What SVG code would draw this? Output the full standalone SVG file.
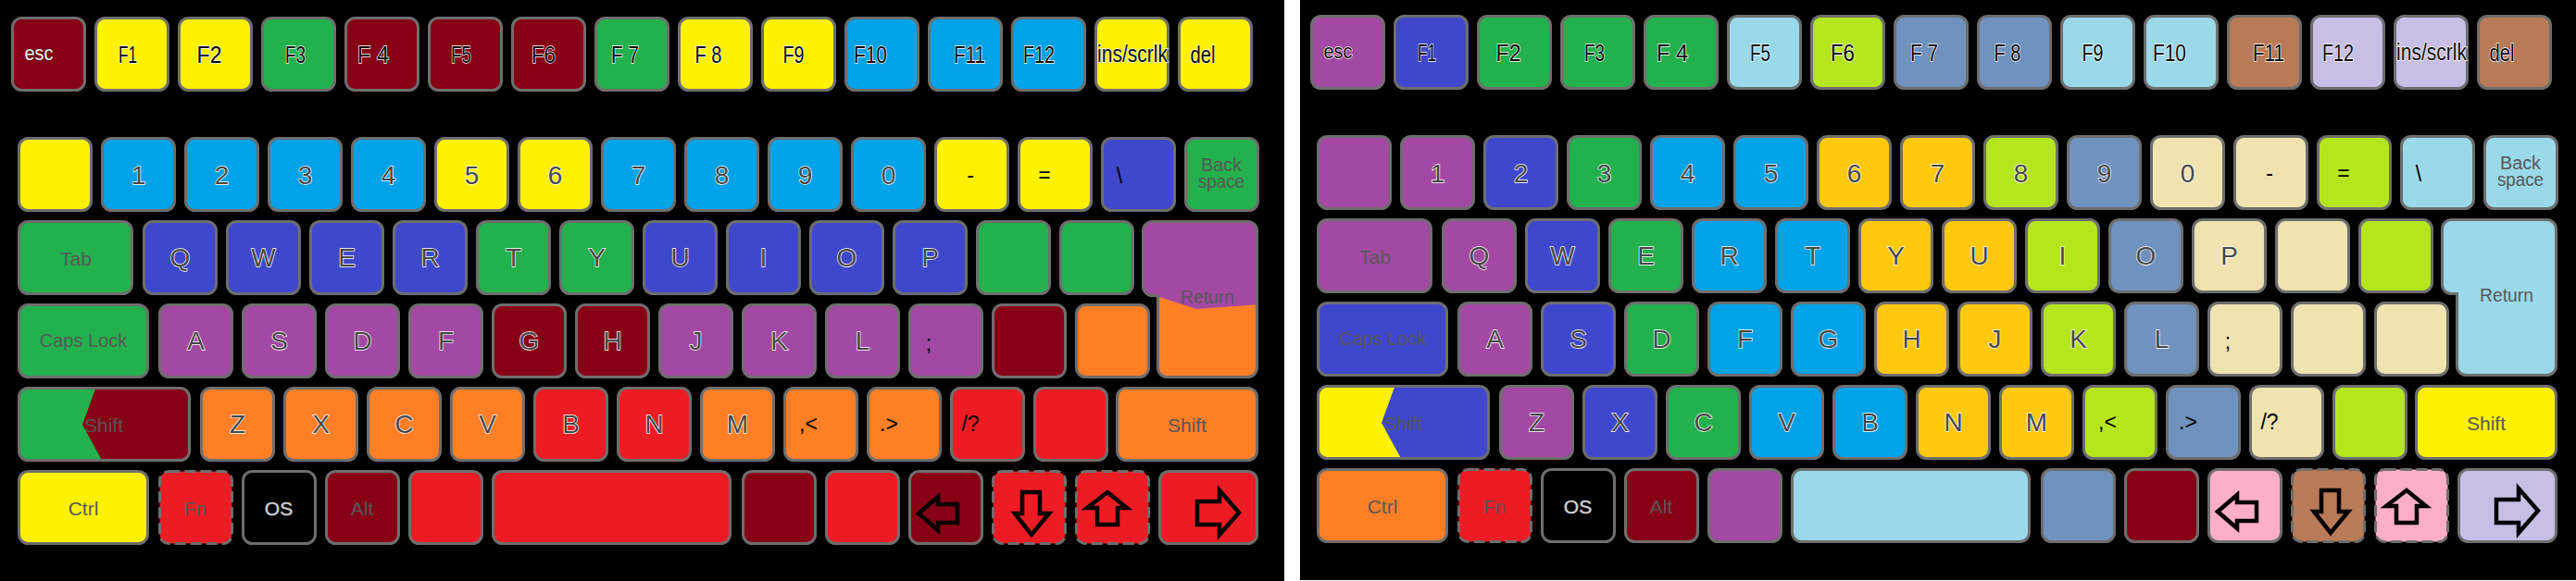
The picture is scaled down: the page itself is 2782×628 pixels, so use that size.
<svg xmlns="http://www.w3.org/2000/svg" width="2782" height="628" viewBox="0 0 2782 628">
<style>
.k{stroke:#6e6e6e;stroke-width:3}
.dsh{stroke-dasharray:12 5}
text{font-family:"Liberation Sans",Arial,Helvetica,sans-serif;text-anchor:middle}
.lt{font-size:28px;fill:#474747;stroke:#ffffff;stroke-width:1.4px;paint-order:stroke}
.fk{font-size:25px;fill:#0a0a0a;stroke:#ffffff;stroke-width:1.4px;paint-order:stroke}
.sm{font-size:22px}
.escl{fill:#f2f2f2;stroke:#1a1a1a;stroke-width:1px}
.lab{font-size:21px;fill:#575757}
.pn{font-size:23px;fill:#000000}
.os{font-size:21px;fill:#d4d4d4;stroke:#555555;stroke-width:1px;paint-order:stroke}
.arw{fill:none;stroke:#000000;stroke-width:4.5;stroke-linejoin:miter}
.dr{fill:#880015}.ye{fill:#FFF200}.gr{fill:#22B14C}.bl{fill:#00A2E8}.in{fill:#3F48CC}
.pu{fill:#A349A4}.or{fill:#FF7F27}.re{fill:#ED1C24}.bk{fill:#000000}.lbl{fill:#99D9EA}
.li{fill:#B5E61D}.st{fill:#7092BE}.go{fill:#FFC90E}.be{fill:#EFE4B0}.br{fill:#B97A57}
.la{fill:#C8BFE7}.pk{fill:#FFAEC9}
</style>
<defs>
<clipPath id="cpShift"><rect x="20.5" y="419.5" width="184" height="78" rx="10"/></clipPath>
<clipPath id="cpRet"><path d="M1244.5,239.5 H1347.5 A10,10 0 0 1 1357.5,249.5 V397.5 A10,10 0 0 1 1347.5,407.5 H1260.5 A10,10 0 0 1 1250.5,397.5 V319.5 H1244.5 A10,10 0 0 1 1234.5,309.5 V249.5 A10,10 0 0 1 1244.5,239.5 Z"/></clipPath>
<path id="retShape" d="M1244.5,239.5 H1347.5 A10,10 0 0 1 1357.5,249.5 V397.5 A10,10 0 0 1 1347.5,407.5 H1260.5 A10,10 0 0 1 1250.5,397.5 V319.5 H1244.5 A10,10 0 0 1 1234.5,309.5 V249.5 A10,10 0 0 1 1244.5,239.5 Z"/>
</defs>
<rect x="0" y="0" width="2782" height="628" fill="#ffffff"/>
<rect x="0" y="0" width="1387" height="628" fill="#000000"/>
<rect x="1404" y="0" width="1378" height="627" fill="#000000"/>

<g id="keyboard-left">
<!-- top row -->
<g id="L-esc"><rect class="k dr" x="13.5" y="19.5" width="78" height="78" rx="10"/><text class="fk sm escl" x="42" y="65" textLength="31" lengthAdjust="spacingAndGlyphs">esc</text></g>
<g id="L-F1"><rect class="k ye" x="103.5" y="19.5" width="78" height="78" rx="10"/><text class="fk" x="138" y="68" textLength="20" lengthAdjust="spacingAndGlyphs">F1</text></g>
<g id="L-F2"><rect class="k ye" x="193.5" y="19.5" width="78" height="78" rx="10"/><text class="fk" x="226" y="68" textLength="27" lengthAdjust="spacingAndGlyphs">F2</text></g>
<g id="L-F3"><rect class="k gr" x="283.5" y="19.5" width="78" height="78" rx="10"/><text class="fk" x="319" y="68" textLength="22" lengthAdjust="spacingAndGlyphs">F3</text></g>
<g id="L-F4"><rect class="k dr" x="373.5" y="19.5" width="78" height="78" rx="10"/><text class="fk" x="403" y="68" textLength="34" lengthAdjust="spacingAndGlyphs">F 4</text></g>
<g id="L-F5"><rect class="k dr" x="463.5" y="19.5" width="78" height="78" rx="10"/><text class="fk" x="498" y="68" textLength="22" lengthAdjust="spacingAndGlyphs">F5</text></g>
<g id="L-F6"><rect class="k dr" x="553.5" y="19.5" width="78" height="78" rx="10"/><text class="fk" x="587" y="68" textLength="26" lengthAdjust="spacingAndGlyphs">F6</text></g>
<g id="L-F7"><rect class="k gr" x="643.5" y="19.5" width="78" height="78" rx="10"/><text class="fk" x="675" y="68" textLength="30" lengthAdjust="spacingAndGlyphs">F 7</text></g>
<g id="L-F8"><rect class="k ye" x="733.5" y="19.5" width="78" height="78" rx="10"/><text class="fk" x="765" y="68" textLength="29" lengthAdjust="spacingAndGlyphs">F 8</text></g>
<g id="L-F9"><rect class="k ye" x="823.5" y="19.5" width="78" height="78" rx="10"/><text class="fk" x="857" y="68" textLength="23" lengthAdjust="spacingAndGlyphs">F9</text></g>
<g id="L-F10"><rect class="k bl" x="913.5" y="19.5" width="78" height="78" rx="10"/><text class="fk" x="940" y="68" textLength="36" lengthAdjust="spacingAndGlyphs">F10</text></g>
<g id="L-F11"><rect class="k bl" x="1003.5" y="19.5" width="78" height="78" rx="10"/><text class="fk" x="1047" y="68" textLength="34" lengthAdjust="spacingAndGlyphs">F11</text></g>
<g id="L-F12"><rect class="k bl" x="1093.5" y="19.5" width="78" height="78" rx="10"/><text class="fk" x="1122" y="68" textLength="34" lengthAdjust="spacingAndGlyphs">F12</text></g>
<g id="L-ins"><rect class="k ye" x="1183.5" y="19.5" width="78" height="78" rx="10"/><text class="fk" x="1223" y="67" textLength="76" lengthAdjust="spacingAndGlyphs">ins/scrlk</text></g>
<g id="L-del"><rect class="k ye" x="1273.5" y="19.5" width="78" height="78" rx="10"/><text class="fk" x="1299" y="68" textLength="27" lengthAdjust="spacingAndGlyphs">del</text></g>
<!-- number row -->
<g id="L-grave"><rect class="k ye" x="20.5" y="149.5" width="78" height="78" rx="10"/></g>
<g id="L-1"><rect class="k bl" x="110.5" y="149.5" width="78" height="78" rx="10"/><text class="lt" x="149.5" y="199">1</text></g>
<g id="L-2"><rect class="k bl" x="200.5" y="149.5" width="78" height="78" rx="10"/><text class="lt" x="239.5" y="199">2</text></g>
<g id="L-3"><rect class="k bl" x="290.5" y="149.5" width="78" height="78" rx="10"/><text class="lt" x="329.5" y="199">3</text></g>
<g id="L-4"><rect class="k bl" x="380.5" y="149.5" width="78" height="78" rx="10"/><text class="lt" x="419.5" y="199">4</text></g>
<g id="L-5"><rect class="k ye" x="470.5" y="149.5" width="78" height="78" rx="10"/><text class="lt" x="509.5" y="199">5</text></g>
<g id="L-6"><rect class="k ye" x="560.5" y="149.5" width="78" height="78" rx="10"/><text class="lt" x="599.5" y="199">6</text></g>
<g id="L-7"><rect class="k bl" x="650.5" y="149.5" width="78" height="78" rx="10"/><text class="lt" x="689.5" y="199">7</text></g>
<g id="L-8"><rect class="k bl" x="740.5" y="149.5" width="78" height="78" rx="10"/><text class="lt" x="779.5" y="199">8</text></g>
<g id="L-9"><rect class="k bl" x="830.5" y="149.5" width="78" height="78" rx="10"/><text class="lt" x="869.5" y="199">9</text></g>
<g id="L-0"><rect class="k bl" x="920.5" y="149.5" width="78" height="78" rx="10"/><text class="lt" x="959.5" y="199">0</text></g>
<g id="L-minus"><rect class="k ye" x="1010.5" y="149.5" width="78" height="78" rx="10"/><text class="pn" x="1048" y="197">-</text></g>
<g id="L-equal"><rect class="k ye" x="1100.5" y="149.5" width="78" height="78" rx="10"/><text class="pn" x="1128" y="197">=</text></g>
<g id="L-backslash"><rect class="k in" x="1190.5" y="149.5" width="78" height="78" rx="10"/><text class="pn" x="1209" y="198">\</text></g>
<g id="L-backspace"><rect class="k gr" x="1280.5" y="149.5" width="78" height="78" rx="10"/><text class="lab" style="font-size:20px"><tspan x="1319" y="185" textLength="44" lengthAdjust="spacingAndGlyphs">Back</tspan><tspan x="1319" y="203" textLength="50" lengthAdjust="spacingAndGlyphs">space</tspan></text></g>
<!-- tab row -->
<g id="L-tab"><rect class="k gr" x="20.5" y="239.5" width="122" height="78" rx="10"/><text class="lab" x="82" y="287">Tab</text></g>
<g id="L-Q"><rect class="k in" x="155.5" y="239.5" width="78" height="78" rx="10"/><text class="lt" x="194.5" y="288">Q</text></g>
<g id="L-W"><rect class="k in" x="245.5" y="239.5" width="78" height="78" rx="10"/><text class="lt" x="284.5" y="288">W</text></g>
<g id="L-E"><rect class="k in" x="335.5" y="239.5" width="78" height="78" rx="10"/><text class="lt" x="374.5" y="288">E</text></g>
<g id="L-R"><rect class="k in" x="425.5" y="239.5" width="78" height="78" rx="10"/><text class="lt" x="464.5" y="288">R</text></g>
<g id="L-T"><rect class="k gr" x="515.5" y="239.5" width="78" height="78" rx="10"/><text class="lt" x="554.5" y="288">T</text></g>
<g id="L-Y"><rect class="k gr" x="605.5" y="239.5" width="78" height="78" rx="10"/><text class="lt" x="644.5" y="288">Y</text></g>
<g id="L-U"><rect class="k in" x="695.5" y="239.5" width="78" height="78" rx="10"/><text class="lt" x="734.5" y="288">U</text></g>
<g id="L-I"><rect class="k in" x="785.5" y="239.5" width="78" height="78" rx="10"/><text class="lt" x="824.5" y="288">I</text></g>
<g id="L-O"><rect class="k in" x="875.5" y="239.5" width="78" height="78" rx="10"/><text class="lt" x="914.5" y="288">O</text></g>
<g id="L-P"><rect class="k in" x="965.5" y="239.5" width="78" height="78" rx="10"/><text class="lt" x="1004.5" y="288">P</text></g>
<g id="L-lbracket"><rect class="k gr" x="1055.5" y="239.5" width="78" height="78" rx="10"/></g>
<g id="L-rbracket"><rect class="k gr" x="1145.5" y="239.5" width="78" height="78" rx="10"/></g>
<g id="L-return"><use href="#retShape" class="pu"/><polygon class="or" clip-path="url(#cpRet)" points="1228,320 1249,320 1292,334 1362,329 1362,412 1228,412"/><use href="#retShape" class="k" fill="none"/><text class="lab" x="1304" y="328" textLength="58" lengthAdjust="spacingAndGlyphs">Return</text></g>
<!-- caps row -->
<g id="L-caps"><rect class="k gr" x="20.5" y="329.5" width="139" height="78" rx="10"/><text class="lab" style="font-size:20px" x="90" y="375">Caps Lock</text></g>
<g id="L-A"><rect class="k pu" x="172.5" y="329.5" width="78" height="78" rx="10"/><text class="lt" x="211.5" y="378">A</text></g>
<g id="L-S"><rect class="k pu" x="262.5" y="329.5" width="78" height="78" rx="10"/><text class="lt" x="301.5" y="378">S</text></g>
<g id="L-D"><rect class="k pu" x="352.5" y="329.5" width="78" height="78" rx="10"/><text class="lt" x="391.5" y="378">D</text></g>
<g id="L-F"><rect class="k pu" x="442.5" y="329.5" width="78" height="78" rx="10"/><text class="lt" x="481.5" y="378">F</text></g>
<g id="L-G"><rect class="k dr" x="532.5" y="329.5" width="78" height="78" rx="10"/><text class="lt" x="571.5" y="378">G</text></g>
<g id="L-H"><rect class="k dr" x="622.5" y="329.5" width="78" height="78" rx="10"/><text class="lt" x="661.5" y="378">H</text></g>
<g id="L-J"><rect class="k pu" x="712.5" y="329.5" width="78" height="78" rx="10"/><text class="lt" x="751.5" y="378">J</text></g>
<g id="L-K"><rect class="k pu" x="802.5" y="329.5" width="78" height="78" rx="10"/><text class="lt" x="841.5" y="378">K</text></g>
<g id="L-L"><rect class="k pu" x="892.5" y="329.5" width="78" height="78" rx="10"/><text class="lt" x="931.5" y="378">L</text></g>
<g id="L-semicolon"><rect class="k pu" x="982.5" y="329.5" width="78" height="78" rx="10"/><text class="pn" x="1003" y="379">;</text></g>
<g id="L-quote"><rect class="k dr" x="1072.5" y="329.5" width="78" height="78" rx="10"/></g>
<g id="L-hash"><rect class="k or" x="1162.5" y="329.5" width="78" height="78" rx="10"/></g>
<!-- shift row -->
<g id="L-lshift"><rect class="dr" x="20.5" y="419.5" width="184" height="78" rx="10"/><polygon class="gr" clip-path="url(#cpShift)" points="14,415 105,415 89,459 113,503 14,503"/><rect class="k" fill="none" x="20.5" y="419.5" width="184" height="78" rx="10"/><text class="lab" x="112" y="467">Shift</text></g>
<g id="L-Z"><rect class="k or" x="217.5" y="419.5" width="78" height="78" rx="10"/><text class="lt" x="256.5" y="468">Z</text></g>
<g id="L-X"><rect class="k or" x="307.5" y="419.5" width="78" height="78" rx="10"/><text class="lt" x="346.5" y="468">X</text></g>
<g id="L-C"><rect class="k or" x="397.5" y="419.5" width="78" height="78" rx="10"/><text class="lt" x="436.5" y="468">C</text></g>
<g id="L-V"><rect class="k or" x="487.5" y="419.5" width="78" height="78" rx="10"/><text class="lt" x="526.5" y="468">V</text></g>
<g id="L-B"><rect class="k re" x="577.5" y="419.5" width="78" height="78" rx="10"/><text class="lt" x="616.5" y="468">B</text></g>
<g id="L-N"><rect class="k re" x="667.5" y="419.5" width="78" height="78" rx="10"/><text class="lt" x="706.5" y="468">N</text></g>
<g id="L-M"><rect class="k or" x="757.5" y="419.5" width="78" height="78" rx="10"/><text class="lt" x="796.5" y="468">M</text></g>
<g id="L-comma"><rect class="k or" x="847.5" y="419.5" width="78" height="78" rx="10"/><text class="pn" x="873" y="466">,&lt;</text></g>
<g id="L-period"><rect class="k or" x="937.5" y="419.5" width="78" height="78" rx="10"/><text class="pn" x="960" y="466">.&gt;</text></g>
<g id="L-slash"><rect class="k re" x="1027.5" y="419.5" width="78" height="78" rx="10"/><text class="pn" x="1048" y="466">/?</text></g>
<g id="L-blank-shift"><rect class="k re" x="1117.5" y="419.5" width="78" height="78" rx="10"/></g>
<g id="L-rshift"><rect class="k or" x="1206.5" y="419.5" width="151" height="78" rx="10"/><text class="lab" x="1282" y="467">Shift</text></g>
<!-- bottom row -->
<g id="L-ctrl"><rect class="k ye" x="20.5" y="509.5" width="139" height="78" rx="10"/><text class="lab" x="90" y="557">Ctrl</text></g>
<g id="L-fn"><rect class="k dsh re" x="172.5" y="509.5" width="78" height="78" rx="10"/><text class="lab" x="211" y="557">Fn</text></g>
<g id="L-os"><rect class="k bk" x="262.5" y="509.5" width="78" height="78" rx="10"/><text class="os" x="301" y="557">OS</text></g>
<g id="L-alt"><rect class="k dr" x="352.5" y="509.5" width="78" height="78" rx="10"/><text class="lab" x="391" y="557">Alt</text></g>
<g id="L-blank-1"><rect class="k re" x="442.5" y="509.5" width="78" height="78" rx="10"/></g>
<g id="L-space"><rect class="k re" x="532.5" y="509.5" width="256" height="78" rx="10"/></g>
<g id="L-blank-2"><rect class="k dr" x="802.5" y="509.5" width="78" height="78" rx="10"/></g>
<g id="L-blank-3"><rect class="k re" x="892.5" y="509.5" width="78" height="78" rx="10"/></g>
<g id="L-left"><rect class="k dr" x="982.5" y="509.5" width="78" height="78" rx="10"/><polygon class="arw" points="992,555 1013,537 1013,545 1034,545 1034,565 1013,565 1013,573"/></g>
<g id="L-down"><rect class="k dsh re" x="1072.5" y="509.5" width="78" height="78" rx="10"/><polygon class="arw" points="1104,532 1123,532 1123,555 1133,555 1114,578 1096,555 1104,555"/></g>
<g id="L-up"><rect class="k dsh re" x="1162.5" y="509.5" width="78" height="78" rx="10"/><polygon class="arw" points="1196,532 1217,549 1207,549 1207,567 1185,567 1185,549 1174,549"/></g>
<g id="L-right"><rect class="k re" x="1252.5" y="509.5" width="105" height="78" rx="10"/><polygon class="arw" points="1293,542 1317,542 1317,530 1338,554 1317,578 1317,567 1293,567"/></g>
</g>

<g id="keyboard-right" transform="translate(1403,-2)">
<!-- top row -->
<g id="R-esc"><rect class="k pu" x="13.5" y="19.5" width="78" height="78" rx="10"/><text class="fk sm" x="42" y="65" textLength="31" lengthAdjust="spacingAndGlyphs">esc</text></g>
<g id="R-F1"><rect class="k in" x="103.5" y="19.5" width="78" height="78" rx="10"/><text class="fk" x="138" y="68" textLength="20" lengthAdjust="spacingAndGlyphs">F1</text></g>
<g id="R-F2"><rect class="k gr" x="193.5" y="19.5" width="78" height="78" rx="10"/><text class="fk" x="226" y="68" textLength="27" lengthAdjust="spacingAndGlyphs">F2</text></g>
<g id="R-F3"><rect class="k gr" x="283.5" y="19.5" width="78" height="78" rx="10"/><text class="fk" x="319" y="68" textLength="22" lengthAdjust="spacingAndGlyphs">F3</text></g>
<g id="R-F4"><rect class="k gr" x="373.5" y="19.5" width="78" height="78" rx="10"/><text class="fk" x="403" y="68" textLength="34" lengthAdjust="spacingAndGlyphs">F 4</text></g>
<g id="R-F5"><rect class="k lbl" x="463.5" y="19.5" width="78" height="78" rx="10"/><text class="fk" x="498" y="68" textLength="22" lengthAdjust="spacingAndGlyphs">F5</text></g>
<g id="R-F6"><rect class="k li" x="553.5" y="19.5" width="78" height="78" rx="10"/><text class="fk" x="587" y="68" textLength="26" lengthAdjust="spacingAndGlyphs">F6</text></g>
<g id="R-F7"><rect class="k st" x="643.5" y="19.5" width="78" height="78" rx="10"/><text class="fk" x="675" y="68" textLength="30" lengthAdjust="spacingAndGlyphs">F 7</text></g>
<g id="R-F8"><rect class="k st" x="733.5" y="19.5" width="78" height="78" rx="10"/><text class="fk" x="765" y="68" textLength="29" lengthAdjust="spacingAndGlyphs">F 8</text></g>
<g id="R-F9"><rect class="k lbl" x="823.5" y="19.5" width="78" height="78" rx="10"/><text class="fk" x="857" y="68" textLength="23" lengthAdjust="spacingAndGlyphs">F9</text></g>
<g id="R-F10"><rect class="k lbl" x="913.5" y="19.5" width="78" height="78" rx="10"/><text class="fk" x="940" y="68" textLength="36" lengthAdjust="spacingAndGlyphs">F10</text></g>
<g id="R-F11"><rect class="k br" x="1003.5" y="19.5" width="78" height="78" rx="10"/><text class="fk" x="1047" y="68" textLength="34" lengthAdjust="spacingAndGlyphs">F11</text></g>
<g id="R-F12"><rect class="k la" x="1093.5" y="19.5" width="78" height="78" rx="10"/><text class="fk" x="1122" y="68" textLength="34" lengthAdjust="spacingAndGlyphs">F12</text></g>
<g id="R-ins"><rect class="k la" x="1183.5" y="19.5" width="78" height="78" rx="10"/><text class="fk" x="1223" y="67" textLength="76" lengthAdjust="spacingAndGlyphs">ins/scrlk</text></g>
<g id="R-del"><rect class="k br" x="1273.5" y="19.5" width="78" height="78" rx="10"/><text class="fk" x="1299" y="68" textLength="27" lengthAdjust="spacingAndGlyphs">del</text></g>
<!-- number row -->
<g id="R-grave"><rect class="k pu" x="20.5" y="149.5" width="78" height="78" rx="10"/></g>
<g id="R-1"><rect class="k pu" x="110.5" y="149.5" width="78" height="78" rx="10"/><text class="lt" x="149.5" y="199">1</text></g>
<g id="R-2"><rect class="k in" x="200.5" y="149.5" width="78" height="78" rx="10"/><text class="lt" x="239.5" y="199">2</text></g>
<g id="R-3"><rect class="k gr" x="290.5" y="149.5" width="78" height="78" rx="10"/><text class="lt" x="329.5" y="199">3</text></g>
<g id="R-4"><rect class="k bl" x="380.5" y="149.5" width="78" height="78" rx="10"/><text class="lt" x="419.5" y="199">4</text></g>
<g id="R-5"><rect class="k bl" x="470.5" y="149.5" width="78" height="78" rx="10"/><text class="lt" x="509.5" y="199">5</text></g>
<g id="R-6"><rect class="k go" x="560.5" y="149.5" width="78" height="78" rx="10"/><text class="lt" x="599.5" y="199">6</text></g>
<g id="R-7"><rect class="k go" x="650.5" y="149.5" width="78" height="78" rx="10"/><text class="lt" x="689.5" y="199">7</text></g>
<g id="R-8"><rect class="k li" x="740.5" y="149.5" width="78" height="78" rx="10"/><text class="lt" x="779.5" y="199">8</text></g>
<g id="R-9"><rect class="k st" x="830.5" y="149.5" width="78" height="78" rx="10"/><text class="lt" x="869.5" y="199">9</text></g>
<g id="R-0"><rect class="k be" x="920.5" y="149.5" width="78" height="78" rx="10"/><text class="lt" x="959.5" y="199">0</text></g>
<g id="R-minus"><rect class="k be" x="1010.5" y="149.5" width="78" height="78" rx="10"/><text class="pn" x="1048" y="197">-</text></g>
<g id="R-equal"><rect class="k li" x="1100.5" y="149.5" width="78" height="78" rx="10"/><text class="pn" x="1128" y="197">=</text></g>
<g id="R-backslash"><rect class="k lbl" x="1190.5" y="149.5" width="78" height="78" rx="10"/><text class="pn" x="1209" y="198">\</text></g>
<g id="R-backspace"><rect class="k lbl" x="1280.5" y="149.5" width="78" height="78" rx="10"/><text class="lab" style="font-size:20px"><tspan x="1319" y="185" textLength="44" lengthAdjust="spacingAndGlyphs">Back</tspan><tspan x="1319" y="203" textLength="50" lengthAdjust="spacingAndGlyphs">space</tspan></text></g>
<!-- tab row -->
<g id="R-tab"><rect class="k pu" x="20.5" y="239.5" width="122" height="78" rx="10"/><text class="lab" x="82" y="287">Tab</text></g>
<g id="R-Q"><rect class="k pu" x="155.5" y="239.5" width="78" height="78" rx="10"/><text class="lt" x="194.5" y="288">Q</text></g>
<g id="R-W"><rect class="k in" x="245.5" y="239.5" width="78" height="78" rx="10"/><text class="lt" x="284.5" y="288">W</text></g>
<g id="R-E"><rect class="k gr" x="335.5" y="239.5" width="78" height="78" rx="10"/><text class="lt" x="374.5" y="288">E</text></g>
<g id="R-R"><rect class="k bl" x="425.5" y="239.5" width="78" height="78" rx="10"/><text class="lt" x="464.5" y="288">R</text></g>
<g id="R-T"><rect class="k bl" x="515.5" y="239.5" width="78" height="78" rx="10"/><text class="lt" x="554.5" y="288">T</text></g>
<g id="R-Y"><rect class="k go" x="605.5" y="239.5" width="78" height="78" rx="10"/><text class="lt" x="644.5" y="288">Y</text></g>
<g id="R-U"><rect class="k go" x="695.5" y="239.5" width="78" height="78" rx="10"/><text class="lt" x="734.5" y="288">U</text></g>
<g id="R-I"><rect class="k li" x="785.5" y="239.5" width="78" height="78" rx="10"/><text class="lt" x="824.5" y="288">I</text></g>
<g id="R-O"><rect class="k st" x="875.5" y="239.5" width="78" height="78" rx="10"/><text class="lt" x="914.5" y="288">O</text></g>
<g id="R-P"><rect class="k be" x="965.5" y="239.5" width="78" height="78" rx="10"/><text class="lt" x="1004.5" y="288">P</text></g>
<g id="R-lbracket"><rect class="k be" x="1055.5" y="239.5" width="78" height="78" rx="10"/></g>
<g id="R-rbracket"><rect class="k li" x="1145.5" y="239.5" width="78" height="78" rx="10"/></g>
<g id="R-return"><use href="#retShape" class="k lbl"/><text class="lab" x="1304" y="328" textLength="58" lengthAdjust="spacingAndGlyphs">Return</text></g>
<!-- caps row -->
<g id="R-caps"><rect class="k in" x="20.5" y="329.5" width="139" height="78" rx="10"/><text class="lab" style="font-size:20px" x="90" y="375">Caps Lock</text></g>
<g id="R-A"><rect class="k pu" x="172.5" y="329.5" width="78" height="78" rx="10"/><text class="lt" x="211.5" y="378">A</text></g>
<g id="R-S"><rect class="k in" x="262.5" y="329.5" width="78" height="78" rx="10"/><text class="lt" x="301.5" y="378">S</text></g>
<g id="R-D"><rect class="k gr" x="352.5" y="329.5" width="78" height="78" rx="10"/><text class="lt" x="391.5" y="378">D</text></g>
<g id="R-F"><rect class="k bl" x="442.5" y="329.5" width="78" height="78" rx="10"/><text class="lt" x="481.5" y="378">F</text></g>
<g id="R-G"><rect class="k bl" x="532.5" y="329.5" width="78" height="78" rx="10"/><text class="lt" x="571.5" y="378">G</text></g>
<g id="R-H"><rect class="k go" x="622.5" y="329.5" width="78" height="78" rx="10"/><text class="lt" x="661.5" y="378">H</text></g>
<g id="R-J"><rect class="k go" x="712.5" y="329.5" width="78" height="78" rx="10"/><text class="lt" x="751.5" y="378">J</text></g>
<g id="R-K"><rect class="k li" x="802.5" y="329.5" width="78" height="78" rx="10"/><text class="lt" x="841.5" y="378">K</text></g>
<g id="R-L"><rect class="k st" x="892.5" y="329.5" width="78" height="78" rx="10"/><text class="lt" x="931.5" y="378">L</text></g>
<g id="R-semicolon"><rect class="k be" x="982.5" y="329.5" width="78" height="78" rx="10"/><text class="pn" x="1003" y="379">;</text></g>
<g id="R-quote"><rect class="k be" x="1072.5" y="329.5" width="78" height="78" rx="10"/></g>
<g id="R-hash"><rect class="k be" x="1162.5" y="329.5" width="78" height="78" rx="10"/></g>
<!-- shift row -->
<g id="R-lshift"><rect class="in" x="20.5" y="419.5" width="184" height="78" rx="10"/><polygon class="ye" clip-path="url(#cpShift)" points="14,415 105,415 89,459 113,503 14,503"/><rect class="k" fill="none" x="20.5" y="419.5" width="184" height="78" rx="10"/><text class="lab" x="112" y="467">Shift</text></g>
<g id="R-Z"><rect class="k pu" x="217.5" y="419.5" width="78" height="78" rx="10"/><text class="lt" x="256.5" y="468">Z</text></g>
<g id="R-X"><rect class="k in" x="307.5" y="419.5" width="78" height="78" rx="10"/><text class="lt" x="346.5" y="468">X</text></g>
<g id="R-C"><rect class="k gr" x="397.5" y="419.5" width="78" height="78" rx="10"/><text class="lt" x="436.5" y="468">C</text></g>
<g id="R-V"><rect class="k bl" x="487.5" y="419.5" width="78" height="78" rx="10"/><text class="lt" x="526.5" y="468">V</text></g>
<g id="R-B"><rect class="k bl" x="577.5" y="419.5" width="78" height="78" rx="10"/><text class="lt" x="616.5" y="468">B</text></g>
<g id="R-N"><rect class="k go" x="667.5" y="419.5" width="78" height="78" rx="10"/><text class="lt" x="706.5" y="468">N</text></g>
<g id="R-M"><rect class="k go" x="757.5" y="419.5" width="78" height="78" rx="10"/><text class="lt" x="796.5" y="468">M</text></g>
<g id="R-comma"><rect class="k li" x="847.5" y="419.5" width="78" height="78" rx="10"/><text class="pn" x="873" y="466">,&lt;</text></g>
<g id="R-period"><rect class="k st" x="937.5" y="419.5" width="78" height="78" rx="10"/><text class="pn" x="960" y="466">.&gt;</text></g>
<g id="R-slash"><rect class="k be" x="1027.5" y="419.5" width="78" height="78" rx="10"/><text class="pn" x="1048" y="466">/?</text></g>
<g id="R-blank-shift"><rect class="k li" x="1117.5" y="419.5" width="78" height="78" rx="10"/></g>
<g id="R-rshift"><rect class="k ye" x="1206.5" y="419.5" width="151" height="78" rx="10"/><text class="lab" x="1282" y="467">Shift</text></g>
<!-- bottom row -->
<g id="R-ctrl"><rect class="k or" x="20.5" y="509.5" width="139" height="78" rx="10"/><text class="lab" x="90" y="557">Ctrl</text></g>
<g id="R-fn"><rect class="k dsh re" x="172.5" y="509.5" width="78" height="78" rx="10"/><text class="lab" x="211" y="557">Fn</text></g>
<g id="R-os"><rect class="k bk" x="262.5" y="509.5" width="78" height="78" rx="10"/><text class="os" x="301" y="557">OS</text></g>
<g id="R-alt"><rect class="k dr" x="352.5" y="509.5" width="78" height="78" rx="10"/><text class="lab" x="391" y="557">Alt</text></g>
<g id="R-blank-1"><rect class="k pu" x="442.5" y="509.5" width="78" height="78" rx="10"/></g>
<g id="R-space"><rect class="k lbl" x="532.5" y="509.5" width="256" height="78" rx="10"/></g>
<g id="R-blank-2"><rect class="k st" x="802.5" y="509.5" width="78" height="78" rx="10"/></g>
<g id="R-blank-3"><rect class="k dr" x="892.5" y="509.5" width="78" height="78" rx="10"/></g>
<g id="R-left"><rect class="k pk" x="982.5" y="509.5" width="78" height="78" rx="10"/><polygon class="arw" points="992,555 1013,537 1013,545 1034,545 1034,565 1013,565 1013,573"/></g>
<g id="R-down"><rect class="k dsh br" x="1072.5" y="509.5" width="78" height="78" rx="10"/><polygon class="arw" points="1104,532 1123,532 1123,555 1133,555 1114,578 1096,555 1104,555"/></g>
<g id="R-up"><rect class="k dsh pk" x="1162.5" y="509.5" width="78" height="78" rx="10"/><polygon class="arw" points="1196,532 1217,549 1207,549 1207,567 1185,567 1185,549 1174,549"/></g>
<g id="R-right"><rect class="k la" x="1252.5" y="509.5" width="105" height="78" rx="10"/><polygon class="arw" points="1293,542 1317,542 1317,530 1338,554 1317,578 1317,567 1293,567"/></g>
</g>
<g id="connectors"/>
</svg>
